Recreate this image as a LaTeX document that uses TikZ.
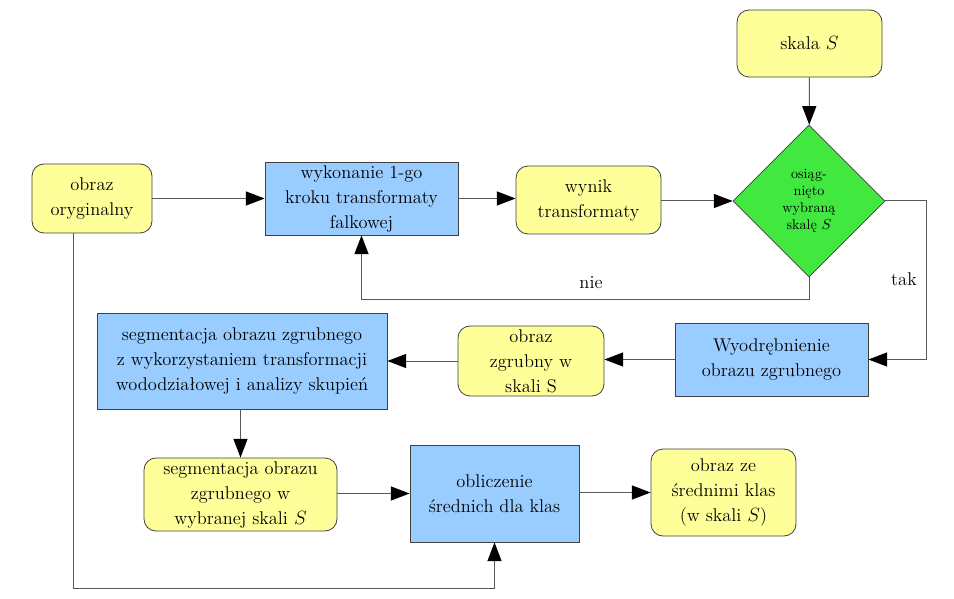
\documentclass[tikz,border=0pt]{standalone}
\usetikzlibrary{arrows.meta,shapes.geometric}
\definecolor{yel}{RGB}{255,255,153}
\definecolor{blu}{RGB}{153,204,255}
\definecolor{grn}{RGB}{64,232,64}
\begin{document}
\begin{tikzpicture}[x=0.75pt,y=-0.75pt,
  every node/.style={font=\fontsize{13.8}{18.75}\selectfont, align=center, inner sep=0pt},
  ybox/.style={draw=black!75, line width=0.6pt, fill=yel, rounded corners=9pt},
  bbox/.style={draw=black!75, line width=0.6pt, fill=blu},
  dbox/.style={draw=black!75, line width=0.6pt, fill=grn, diamond, minimum width=114pt, minimum height=114pt, aspect=1},
  conn/.style={draw=black!65, line width=0.75pt, -{Triangle[length=14pt,width=10.5pt,color=black]}}]
\useasboundingbox (0,0) rectangle (954,599);

\node[ybox, minimum width=108.75pt, minimum height=50.25pt] (skala) at (809.5,43.5) {skala $S$};
\node[dbox, font=\fontsize{10.6}{12.75}\selectfont] (dec) at (809,201) {osiąg-\\nięto\\wybraną\\skalę $S$};
\node[ybox, minimum width=90pt, minimum height=51.75pt] (oryg) at (92,198.5) {obraz\\oryginalny};
\node[bbox, minimum width=144.75pt, minimum height=54.75pt] (wyk) at (361.5,198.5) {wykonanie 1-go\\kroku transformaty\\falkowej};
\node[ybox, minimum width=108.75pt, minimum height=51pt] (wynik) at (588.5,200) {wynik\\transformaty};
\node[bbox, minimum width=144.75pt, minimum height=54.75pt] (wyod) at (771.5,359.5) {Wyodrębnienie\\obrazu zgrubnego};
\node[ybox, minimum width=109.5pt, minimum height=52.5pt] (zgr) at (531,361) {obraz\\zgrubny w\\skali S};
\node[bbox, minimum width=217.5pt, minimum height=72pt] (segm) at (242,361) {segmentacja obrazu zgrubnego\\z wykorzystaniem transformacji\\wododziałowej i analizy skupień};
\node[ybox, minimum width=144.75pt, minimum height=54.75pt] (segw) at (240.5,494.5) {segmentacja obrazu\\zgrubnego w\\wybranej skali $S$};
\node[bbox, minimum width=126.75pt, minimum height=72.75pt] (obl) at (494.5,493.5) {obliczenie\\średnich dla klas};
\node[ybox, minimum width=108.75pt, minimum height=65.25pt] (sred) at (723.5,492.5) {obraz ze\\średnimi klas\\(w skali $S$)};

\coordinate (c1) at (73,588);

\draw[conn] (skala) -- (dec);
\draw[conn] (oryg) -- (wyk);
\draw[conn] (wyk.east) -- (wyk.east -| wynik.west);
\draw[conn] (dec.west -| wynik.east) -- (dec.west);
\draw[conn] (dec.south) -- ++(0,22) -| (wyk.south);
\node (nie) at (591,283) {nie};
\draw[conn] (dec.east) -- ++(41,0) |- (wyod.east);
\node (tak) at (904,279) {tak};
\draw[conn] (wyod.west) -- (wyod.west -| zgr.east);
\draw[conn] (zgr) -- (segm);
\draw[conn] (segm.south -| segw.north) -- (segw.north);
\draw[conn] (segw.east |- obl.west) -- (obl.west);
\draw[conn] (obl.east |- sred.west) -- (sred.west);
\draw[conn] (oryg.south -| c1) -- (c1) -| (obl.south);
\end{tikzpicture}
\end{document}
